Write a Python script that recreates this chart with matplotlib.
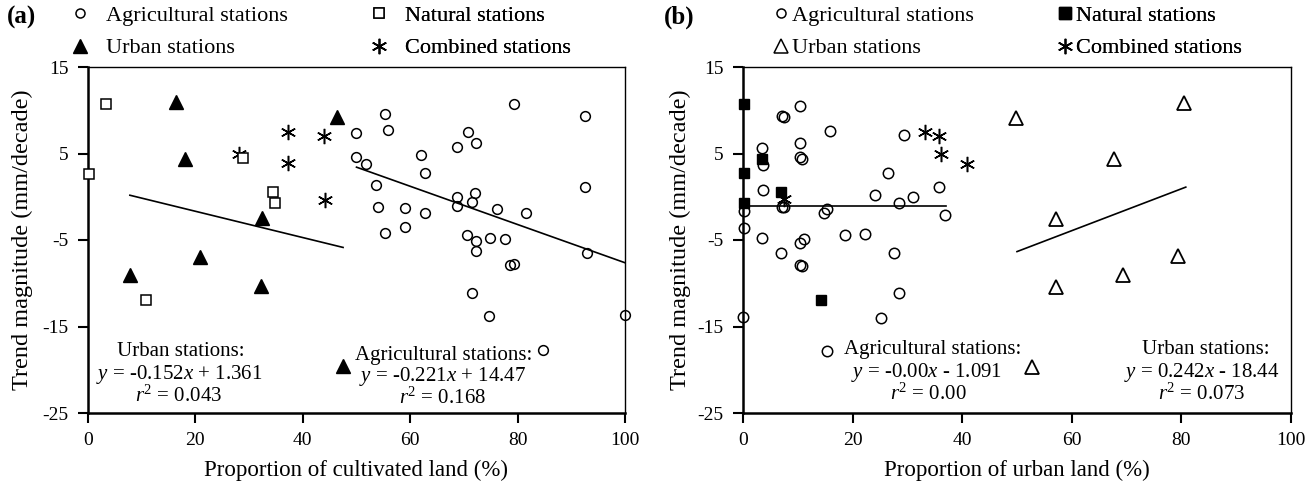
import matplotlib
matplotlib.use("Agg")
import matplotlib.pyplot as plt
from matplotlib.lines import Line2D

plt.rcParams['font.family'] = ['Liberation Serif', 'DejaVu Serif']
plt.rcParams['mathtext.fontset'] = 'custom'
plt.rcParams['mathtext.rm'] = 'Liberation Serif'
plt.rcParams['mathtext.it'] = 'Liberation Serif:italic'
plt.rcParams['axes.unicode_minus'] = False

# ---- panel (a): proportion of cultivated land ----
a_agri_x = [55.3, 79.4, 92.5, 49.9, 55.9, 70.8, 72.2, 68.8, 62.0, 49.9, 51.8, 62.8, 53.7,
            92.5, 72.0, 68.8, 71.5, 68.8, 54.0, 59.1, 62.8, 76.1, 81.5, 59.1, 55.4, 70.5,
            72.2, 74.9, 77.7, 72.2, 78.5, 79.4, 93.0, 71.5, 74.7, 100.0, 84.7]
a_agri_y = [9.56, 10.7, 9.36, 7.36, 7.67, 7.43, 6.2, 5.78, 4.81, 4.65, 3.81, 2.77, 1.38,
            1.07, 0.42, 0.02, -0.55, -1.05, -1.2, -1.25, -1.9, -1.36, -1.83, -3.45, -4.2, -4.37,
            -5.14, -4.72, -4.9, -6.26, -7.84, -7.73, -6.53, -11.1, -13.8, -13.7, -17.7]
a_nat_x = [3.4, 0.1, 28.8, 34.5, 34.9, 10.8]
a_nat_y = [10.7, 2.65, 4.5, 0.6, -0.7, -11.9]
a_urb_x = [16.3, 18.1, 32.4, 20.9, 7.8, 32.3, 46.4, 47.5]
a_urb_y = [10.9, 4.4, -2.5, -7.0, -9.0, -10.3, 9.25, -19.6]
a_comb_x = [28.1, 37.2, 37.2, 44.0, 44.2]
a_comb_y = [5.0, 7.5, 3.9, 7.0, -0.4]

# fitted lines (slope, intercept, x range)
a_urb_fit = (-0.152, 1.361, 7.8, 47.5)
a_agri_fit = (-0.221, 14.47, 50.0, 100.0)

# ---- panel (b): proportion of urban land ----
b_agri_x = [10.35, 7.1, 7.4, 15.95, 29.4, 10.35, 3.5, 10.35, 10.8, 3.7, 26.5, 35.8, 3.7,
            24.05, 31.0, 28.5, 7.1, 7.4, 15.3, 0.1, 14.7, 36.95, 0.1, 22.2, 18.6, 3.5, 11.1,
            10.35, 6.9, 27.6, 10.35, 10.8, 28.5, 0.0, 25.1, 15.4]
b_agri_y = [10.52, 9.36, 9.2, 7.6, 7.16, 6.2, 5.62, 4.65, 4.42, 3.66, 2.73, 1.18, 0.8,
            0.22, 0.0, -0.67, -1.17, -1.17, -1.4, -1.6, -1.9, -2.1, -3.6, -4.3, -4.4, -4.8, -4.9,
            -5.37, -6.5, -6.5, -7.84, -8.0, -11.1, -13.85, -14.0, -17.8]
b_nat_x = [0.1, 3.5, 0.1, 6.9, 0.1, 14.3]
b_nat_y = [10.7, 4.39, 2.73, 0.53, -0.67, -11.9]
b_urb_x = [49.9, 80.5, 67.7, 57.1, 79.3, 69.3, 57.1, 52.7]
b_urb_y = [9.1, 10.8, 4.35, -2.6, -6.9, -9.0, -10.4, -19.7]
b_comb_x = [33.3, 35.8, 36.1, 40.8, 7.4]
b_comb_y = [7.5, 7.05, 4.96, 3.8, -0.3]

b_agri_fit = (0.0, -1.091, 0.0, 37.0)
b_urb_fit = (0.242, -18.44, 50.0, 80.8)

xticks = [0, 20, 40, 60, 80, 100]
yticks = [15, 5, -5, -15, -25]

star = (6, 2, 0)
fs_tick = 14
fs_leg = 16
fs_txt = 15

fig = plt.figure(figsize=(13.12, 4.84), dpi=100)
W, H = 1312, 484
axa = fig.add_axes([88 / W, 1 - 413 / H, (625 - 88) / W, (413 - 67) / H])
axb = fig.add_axes([743 / W, 1 - 413 / H, (1291 - 743) / W, (413 - 67) / H])


def style(ax, xlabel, ylab_x):
    ax.set_xlim(0, 100)
    ax.set_ylim(-25, 15)
    ax.set_xticks(xticks)
    ax.set_yticks(yticks)
    ax.tick_params(direction='out', length=7, width=1.5, labelsize=fs_tick, pad=7)
    for s in ['left', 'bottom']:
        ax.spines[s].set_linewidth(1.8)
    for s in ['top', 'right']:
        ax.spines[s].set_linewidth(1.0)
    ax.set_xlabel(xlabel, fontsize=16.5, va='center')
    ax.xaxis.set_label_coords(0.5, -0.165)
    ax.set_ylabel('Trend magnitude (mm/decade)', fontsize=17.5, va='center')
    ax.yaxis.set_label_coords(ylab_x, 0.5)


def fitline(ax, fit):
    k, b, x0, x1 = fit
    ax.plot([x0, x1], [k * x0 + b, k * x1 + b], color='black', lw=1.2, zorder=2)


def leg(ax, handles, labels, x, y, pad):
    l = ax.legend(handles, labels, loc='upper left', bbox_to_anchor=(x / W, 1 - y / H),
                  bbox_transform=fig.transFigure, frameon=False, fontsize=fs_leg,
                  handlelength=0.9, handletextpad=pad, borderpad=0, labelspacing=0.55,
                  borderaxespad=0)
    ax.add_artist(l)


# panel (a)
axa.plot(a_agri_x, a_agri_y, 'o', ms=7, mfc='none', mec='black', mew=1.1, clip_on=False, zorder=3)
axa.plot(a_comb_x, a_comb_y, ls='none', marker=star, ms=11, mec='black', mew=1.1, clip_on=False, zorder=3)
axa.plot(a_nat_x, a_nat_y, 's', ms=7, mfc='white', mec='black', mew=1.1, clip_on=False, zorder=4)
axa.plot(a_urb_x, a_urb_y, '^', ms=9.5, mfc='black', mec='black', clip_on=False, zorder=4)
fitline(axa, a_urb_fit)
fitline(axa, a_agri_fit)
style(axa, 'Proportion of cultivated land (%)', -0.123)

axa.text(17.3, -17.9, 'Urban stations:', ha='center', va='center', fontsize=fs_txt)
axa.text(16.9, -20.6, r'$y$ = -0.152$x$ + 1.361', ha='center', va='center', fontsize=fs_txt)
axa.text(16.9, -23.1, r'$r^2$ = 0.043', ha='center', va='center', fontsize=fs_txt)
axa.text(66.3, -18.3, 'Agricultural stations:', ha='center', va='center', fontsize=fs_txt)
axa.text(66.0, -20.8, r'$y$ = -0.221$x$ + 14.47', ha='center', va='center', fontsize=fs_txt)
axa.text(66.0, -23.3, r'$r^2$ = 0.168', ha='center', va='center', fontsize=fs_txt)

h_agri = Line2D([], [], ls='none', marker='o', ms=6.5, mfc='none', mec='black', mew=1.1)
h_urb_a = Line2D([], [], ls='none', marker='^', ms=9.5, mfc='black', mec='black')
h_nat_a = Line2D([], [], ls='none', marker='s', ms=7, mfc='white', mec='black', mew=1.1)
h_comb = Line2D([], [], ls='none', marker=star, ms=11, mec='black', mew=1.1)
leg(axa, [h_agri, h_urb_a], ['Agricultural stations', 'Urban stations'], 70, 5, 0.7)
leg(axa, [h_nat_a, h_comb], ['Natural stations', 'Combined stations'], 369, 5, 0.7)
fig.text(7 / W, 1 - 17 / H, '(a)', fontsize=18, fontweight='bold', va='center')

# panel (b)
axb.plot(b_agri_x, b_agri_y, 'o', ms=7.5, mfc='none', mec='black', mew=1.1, clip_on=False, zorder=3)
axb.plot(b_comb_x, b_comb_y, ls='none', marker=star, ms=11, mec='black', mew=1.1, clip_on=False, zorder=3)
axb.plot(b_nat_x, b_nat_y, 's', ms=7, mfc='black', mec='black', clip_on=False, zorder=4)
axb.plot(b_urb_x, b_urb_y, '^', ms=10.5, mfc='white', mec='black', mew=1.3, clip_on=False, zorder=4)
fitline(axb, b_agri_fit)
fitline(axb, b_urb_fit)
style(axb, 'Proportion of urban land (%)', -0.115)

axb.text(34.6, -17.7, 'Agricultural stations:', ha='center', va='center', fontsize=fs_txt)
axb.text(33.5, -20.3, r'$y$ = -0.00$x$ - 1.091', ha='center', va='center', fontsize=fs_txt)
axb.text(33.8, -22.8, r'$r^2$ = 0.00', ha='center', va='center', fontsize=fs_txt)
axb.text(84.4, -17.7, 'Urban stations:', ha='center', va='center', fontsize=fs_txt)
axb.text(83.7, -20.3, r'$y$ = 0.242$x$ - 18.44', ha='center', va='center', fontsize=fs_txt)
axb.text(83.7, -22.8, r'$r^2$ = 0.073', ha='center', va='center', fontsize=fs_txt)

h_urb_b = Line2D([], [], ls='none', marker='^', ms=10, mfc='white', mec='black', mew=1.1)
h_nat_b = Line2D([], [], ls='none', marker='s', ms=8, mfc='black', mec='black')
leg(axb, [h_agri, h_urb_b], ['Agricultural stations', 'Urban stations'], 771, 5, 0.05)
leg(axb, [h_nat_b, h_comb], ['Natural stations', 'Combined stations'], 1055, 5, 0.05)
fig.text(664 / W, 1 - 17 / H, '(b)', fontsize=18, fontweight='bold', va='center')

fig.savefig('out.png', dpi=100)
